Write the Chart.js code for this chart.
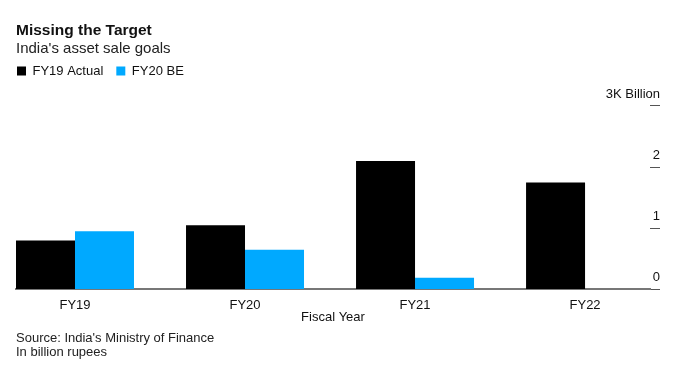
<!DOCTYPE html>
<html>
<head>
<meta charset="utf-8">
<script src="https://cdn.jsdelivr.net/npm/chart.js@4"></script>
<style>
  html, body { margin: 0; padding: 0; background: #fff; }
  #wrap { width: 680px; height: 374px; }
</style>
</head>
<body>
<div id="wrap"><canvas id="chart" width="680" height="374"></canvas></div>
<script>
/* === Data === */
const years    = ["FY19", "FY20", "FY21", "FY22"];
const actual   = [800, 1050, 2100, 1750];   // black, billion rupees
const budget   = [950, 650, 190, null];     // blue, billion rupees
const yTicks   = [0, 1000, 2000, 3000];
const yLabels  = ["0", "1", "2", "3K Billion"];
const footer   = ["Source: India's Ministry of Finance", "In billion rupees"];

const FONT  = "'Liberation Sans', Arial, Helvetica, sans-serif";
const BLUE  = "#00a9ff";
const INK   = "#111";

/* === Plugins === */
// legend box sits flush with the title in the original
const legendShift = {
  id: 'legendShift',
  afterLayout(chart) {
    chart.legend.left -= 12;
    chart.legend.right -= 12;
  }
};
// source / unit notes under the axis
const footNotes = {
  id: 'footNotes',
  afterDraw(chart) {
    const c = chart.ctx;
    c.save();
    c.font = "13px " + FONT;
    c.fillStyle = "#222";
    c.textBaseline = "middle";
    c.textAlign = "left";
    footer.forEach((line, i) => c.fillText(line, 16, 338 + i * 14));
    c.restore();
  }
};

/* === Chart === */
new Chart(document.getElementById('chart'), {
  type: 'bar',
  data: {
    datasets: [
      {
        label: 'FY19 Actual',
        data: years.map((y, i) => ({ x: i, y: actual[i] })),
        backgroundColor: '#000'
      },
      {
        label: 'FY20 BE',
        data: years.map((y, i) => ({ x: i, y: budget[i] })),
        backgroundColor: BLUE
      }
    ]
  },
  options: {
    responsive: false,
    animation: false,
    categoryPercentage: 0.694,
    barPercentage: 1,
    borderWidth: 0,
    layout: { padding: { left: 16, right: 0, top: 0, bottom: 48 } },
    plugins: {
      title: {
        display: true,
        text: 'Missing the Target',
        align: 'start',
        color: INK,
        font: { family: FONT, size: 15.5, weight: 'bold', lineHeight: 1.2 },
        padding: { top: 21, bottom: 0 }
      },
      subtitle: {
        display: true,
        text: "India's asset sale goals",
        align: 'start',
        color: '#222',
        font: { family: FONT, size: 15, lineHeight: 1.2 },
        padding: { top: 0, bottom: -6 }
      },
      legend: {
        display: true,
        align: 'start',
        labels: {
          boxWidth: 9,
          boxHeight: 9,
          padding: 13,
          color: INK,
          font: { family: FONT, size: 13 }
        }
      },
      tooltip: { enabled: false }
    },
    scales: {
      x: {
        type: 'linear',
        offset: false,
        min: -0.347,
        max: 3.382,
        grid: { display: false, drawTicks: false, offset: false },
        border: { display: true, color: '#777', width: 2 },
        ticks: {
          stepSize: 1,
          includeBounds: false,
          padding: 8,
          color: INK,
          font: { family: FONT, size: 13 },
          callback: v => years[v]
        },
        title: {
          display: true,
          text: 'Fiscal Year',
          color: INK,
          font: { family: FONT, size: 13, lineHeight: 1 },
          padding: { top: -10, bottom: 2 }
        }
      },
      y: {
        position: 'right',
        min: 0,
        max: 3300,
        border: { display: false },
        grid: { drawOnChartArea: false, drawTicks: true, tickLength: 10, color: '#555', lineWidth: 1 },
        afterBuildTicks: axis => { axis.ticks = yTicks.map(v => ({ value: v })); },
        ticks: {
          mirror: true,
          padding: 10,
          labelOffset: -12,
          color: INK,
          font: { family: FONT, size: 13 },
          callback: (v, i) => yLabels[i]
        }
      }
    }
  },
  plugins: [legendShift, footNotes]
});
</script>
</body>
</html>
